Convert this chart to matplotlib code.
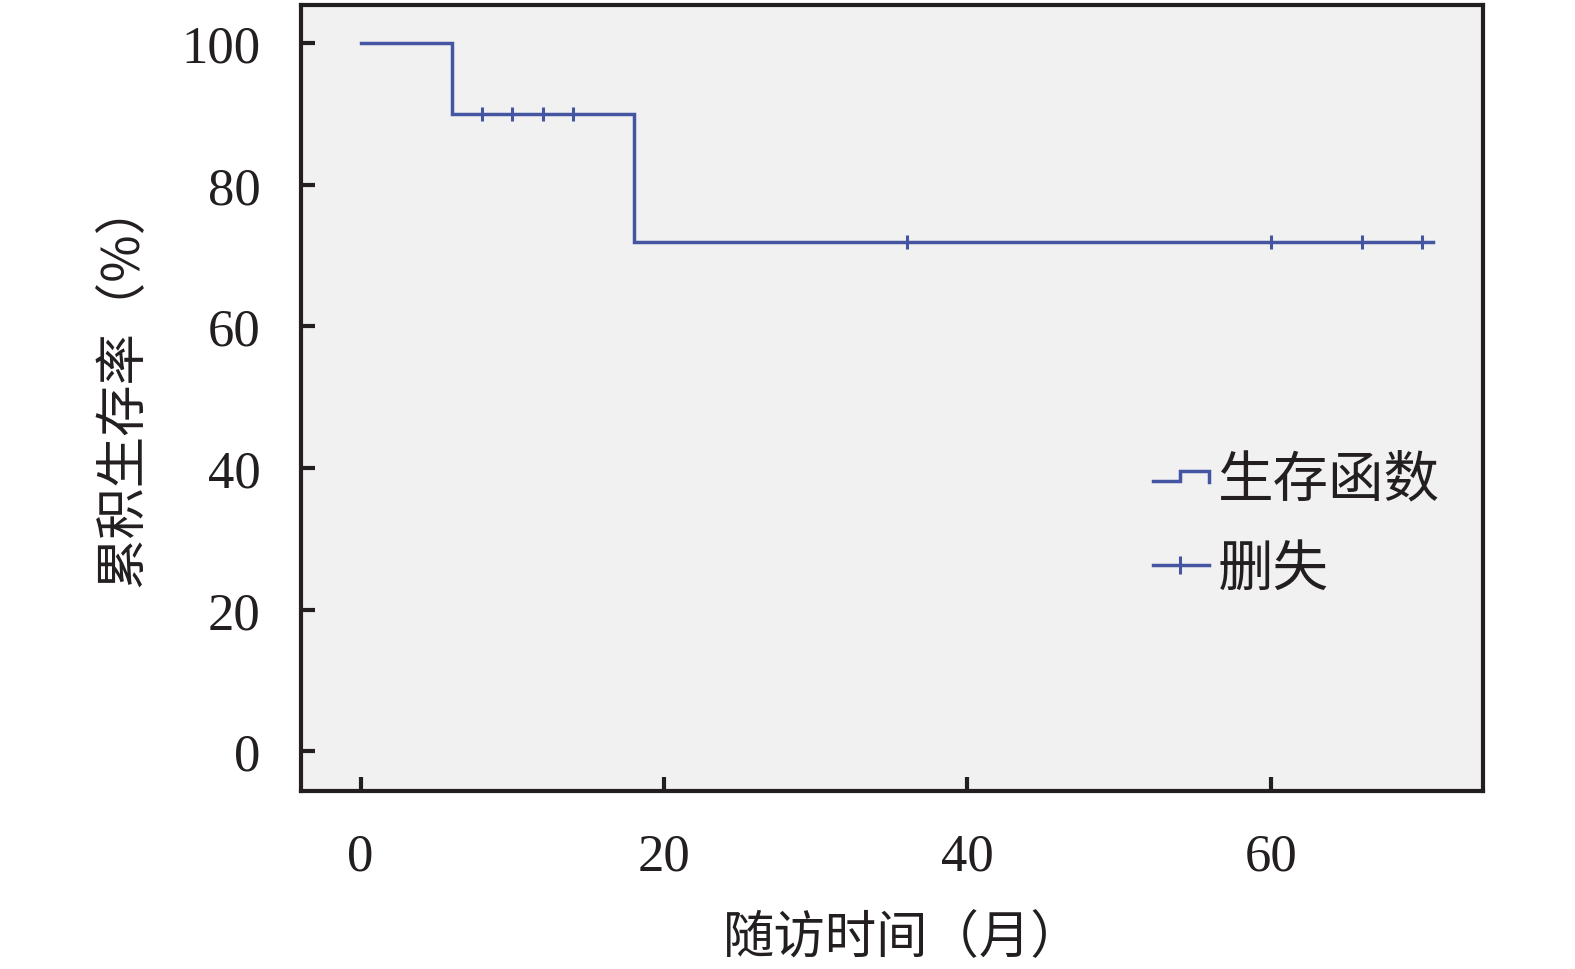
import matplotlib
matplotlib.use("Agg")
import matplotlib.pyplot as plt
from matplotlib.lines import Line2D
from matplotlib.legend_handler import HandlerBase

# ---- data ----
step_times = [0, 6, 18, 70.7]
step_surv = [100, 90, 72, 72]
censor_times = [8, 10, 12, 14, 36, 60, 66, 70]
censor_surv = [90, 90, 90, 90, 72, 72, 72, 72]
xticks = [0, 20, 40, 60]
yticks = [0, 20, 40, 60, 80, 100]
xlabel = "随访时间（月）"
ylabel = "累积生存率（%）"
legend_labels = ["生存函数", "删失"]

LINE_C = "#4455A2"
SPINE_C = "#231F20"
CJK = ["Noto Sans CJK SC", "DejaVu Sans"]
SERIF = ["Liberation Serif", "DejaVu Serif"]

fig = plt.figure(figsize=(15.75, 9.70), dpi=100)
ax = fig.add_axes([0.1911, 0.1835, 0.7505, 0.8103])
ax.set_facecolor("#F1F1F1")

ax.plot(step_times, step_surv, drawstyle="steps-post", color=LINE_C, lw=2.5,
        solid_joinstyle="miter")
ax.plot(censor_times, censor_surv, ls="none", marker="|", ms=10, mew=2.2,
        color=LINE_C)

ax.set_xlim(-3.93, 74.0)
ax.set_ylim(-5.6, 105.4)
ax.set_xticks(xticks)
ax.set_yticks(yticks)
for s in ax.spines.values():
    s.set_linewidth(3)
    s.set_color(SPINE_C)
ax.tick_params(axis="both", direction="in", length=10, width=3, color=SPINE_C,
               labelsize=38, labelcolor="#231F20")
ax.tick_params(axis="x", pad=30)
ax.tick_params(axis="y", pad=29)
for lab in ax.get_xticklabels() + ax.get_yticklabels():
    lab.set_family(SERIF)

ax.set_xlabel(xlabel, fontsize=37, family=CJK, color="#231F20")
ax.set_ylabel(ylabel, fontsize=37, family=CJK, color="#231F20")
ax.xaxis.set_label_coords(0.509, -0.152)
ax.yaxis.set_label_coords(-0.128, 0.52)


class StepHandler(HandlerBase):
    def create_artists(self, legend, orig_handle, xdescent, ydescent, width,
                       height, fontsize, trans):
        x0 = -xdescent
        c = height / 2 - ydescent
        low = c - 4.0
        high = c + 3.2
        xs = [x0, x0 + width * 0.49, x0 + width * 0.49, x0 + width, x0 + width]
        ys = [low, low, high, high, low - 0.3]
        ln = Line2D(xs, ys, color=LINE_C, lw=2.5, solid_joinstyle="miter")
        ln.set_transform(trans)
        return [ln]


class CensorHandler(HandlerBase):
    def create_artists(self, legend, orig_handle, xdescent, ydescent, width,
                       height, fontsize, trans):
        x0 = -xdescent
        c = height / 2 - ydescent
        ln = Line2D([x0, x0 + width], [c, c], color=LINE_C, lw=2.5)
        ln.set_transform(trans)
        mk = Line2D([x0 + width * 0.49], [c], ls="none", marker="|", ms=13,
                    mew=2.2, color=LINE_C)
        mk.set_transform(trans)
        return [ln, mk]


h1 = Line2D([], [], color=LINE_C)
h2 = Line2D([], [], color=LINE_C, marker="|")
leg = ax.legend([h1, h2], legend_labels,
                handler_map={h1: StepHandler(), h2: CensorHandler()},
                loc="upper left", bbox_to_anchor=(0.721, 0.433),
                frameon=False, borderpad=0, borderaxespad=0,
                handlelength=1.0, handletextpad=0.17, labelspacing=0.58,
                prop={"family": CJK, "size": 40})
for t in leg.get_texts():
    t.set_color("#231F20")

fig.savefig("out.png", dpi=100)
